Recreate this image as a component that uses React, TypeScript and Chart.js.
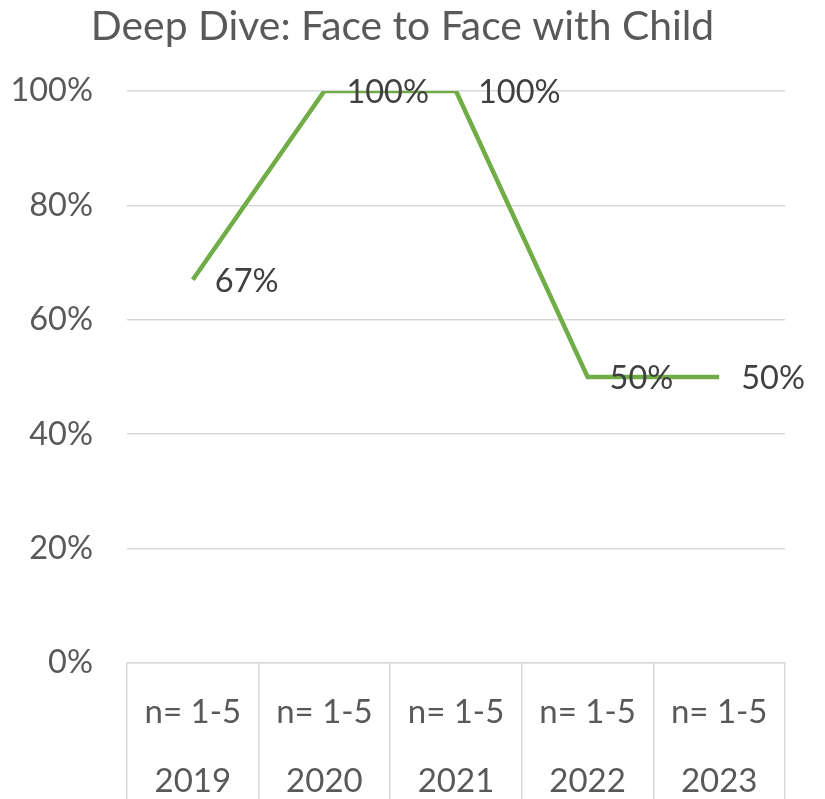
import React, { useEffect, useRef } from "react";
import { Chart, registerables } from "chart.js";

Chart.register(...registerables);

const title = "Deep Dive: Face to Face with Child";
const years = ["2019", "2020", "2021", "2022", "2023"];
const nLabels = ["n= 1-5", "n= 1-5", "n= 1-5", "n= 1-5", "n= 1-5"];
const values = [67, 100, 100, 50, 50];
const valueLabels = ["67%", "100%", "100%", "50%", "50%"];
const yTicks = [0, 20, 40, 60, 80, 100];

const FONT = "Lato, 'Open Sans', sans-serif";
const TEXT = "#595959";
const GRID = "#d9d9d9";
const GREEN = "#70AD47";

const dataLabelPlugin = {
  id: "dataLabels",
  afterDatasetsDraw(chart: any) {
    const ctx = chart.ctx;
    const meta = chart.getDatasetMeta(0);
    ctx.save();
    ctx.font = `32.5px ${FONT}`;
    ctx.fillStyle = "#404040";
    ctx.textAlign = "left";
    ctx.textBaseline = "middle";
    meta.data.forEach((pt: any, i: number) => {
      ctx.fillText(valueLabels[i], pt.x + 22, pt.y + 2);
    });
    ctx.restore();
  },
};

export default function App() {
  const ref = useRef<HTMLCanvasElement>(null);
  useEffect(() => {
    document.body.style.margin = "0";
    const chart = new Chart(ref.current!, {
      type: "line",
      data: {
        labels: years.map((y, i) => [nLabels[i], y]),
        datasets: [
          {
            data: values,
            borderColor: GREEN,
            borderWidth: 4.5,
            pointRadius: 0,
            tension: 0,
            fill: false,
            yAxisID: "y",
          },
        ],
      },
      options: {
        animation: false,
        responsive: true,
        maintainAspectRatio: false,
        layout: { padding: { left: 0, right: 20, top: 0, bottom: 0 } },
        plugins: {
          legend: { display: false },
          tooltip: { enabled: false },
          title: {
            display: true,
            text: title,
            color: TEXT,
            font: { family: FONT, size: 40.8, weight: "normal", lineHeight: 1.2 },
            padding: { top: 2.5, bottom: 39.5 },
          },
        },
        scales: {
          x: {
            offset: true,
            grid: {
              offset: true,
              drawOnChartArea: false,
              drawTicks: true,
              tickLength: 136,
              color: GRID,
              lineWidth: 1.5,
            },
            border: { display: true, color: GRID, width: 1.5 },
            ticks: {
              color: TEXT,
              font: { family: FONT, size: 33, lineHeight: "69px" as any },
              padding: -121.5,
              maxRotation: 0,
              autoSkip: false,
            },
            afterFit(scale: any) {
              scale.height = 136;
            },
          },
          y: {
            min: 0,
            max: 100,
            afterBuildTicks(scale: any) {
              scale.ticks = yTicks.map((v) => ({ value: v }));
            },
            grid: { color: GRID, lineWidth: 1.5, drawTicks: false },
            border: { display: false },
            ticks: {
              color: TEXT,
              font: { family: FONT, size: 32.5 },
              padding: 34,
              callback: (v: any) => `${v}%`,
            },
            afterFit(scale: any) {
              scale.width = 127;
            },
          },
          yRight: {
            position: "right",
            min: 0,
            max: 1,
            grid: { display: false, drawTicks: false },
            border: { display: false },
            ticks: { display: false },
            afterFit(scale: any) {
              scale.width = 20;
            },
          },
        },
      },
      plugins: [dataLabelPlugin],
    });
    return () => chart.destroy();
  }, []);
  return (
    <div style={{ width: 825, height: 799, position: "relative" }}>
      <canvas ref={ref} />
    </div>
  );
}
